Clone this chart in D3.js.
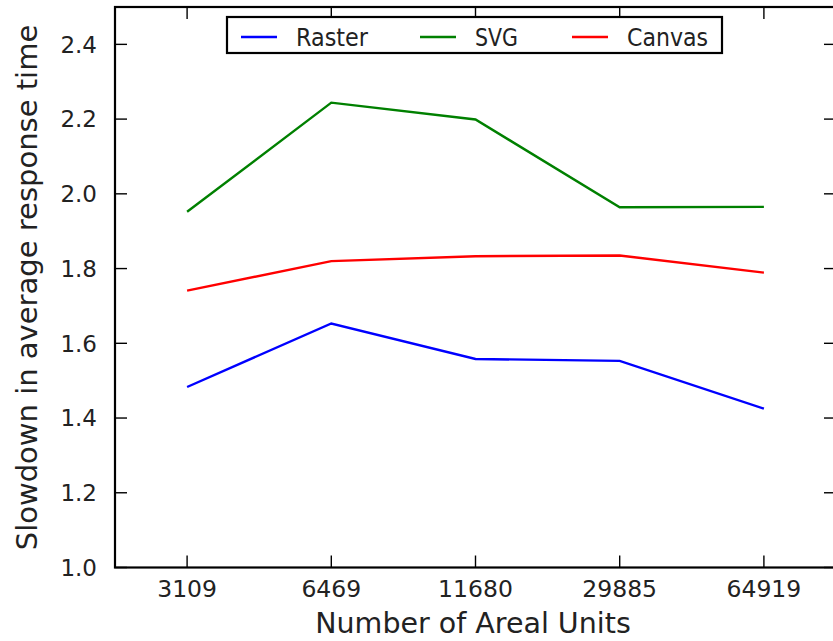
<!DOCTYPE html>
<html><head><meta charset="utf-8">
<script src="https://cdn.jsdelivr.net/npm/d3@7"></script>
<style>body{margin:0;background:#fff}svg{display:block}text{font-family:"DejaVu Sans",sans-serif;fill:#222}</style>
</head><body><svg id="c" width="833" height="641"></svg>
<script>
const categories = ["3109","6469","11680","29885","64919"];
const raster = [1.483, 1.653, 1.558, 1.553, 1.425];
const svgS   = [1.952, 2.244, 2.199, 1.964, 1.965];
const canvas = [1.741, 1.820, 1.833, 1.835, 1.789];
const yTicks = [1.0, 1.2, 1.4, 1.6, 1.8, 2.0, 2.2, 2.4];
const seriesNames = ["Raster","SVG","Canvas"];
const seriesColors = ["#0000ff","#008000","#ff0000"];
const seriesData = [raster, svgS, canvas];

const svg = d3.select("#c");
const L=115, R=836, T=7, B=567.5;
const x = d3.scaleLinear().domain([0.5, categories.length+0.5]).range([L,R]);
const y = d3.scaleLinear().domain([1.0, 2.5]).range([B,T]);

const line = d3.line().x((d,i)=>x(i+1)).y(d=>y(d));
seriesData.forEach((s,k)=>{
  svg.append("path").datum(s).attr("d",line).attr("fill","none")
    .attr("stroke",seriesColors[k]).attr("stroke-width",2.4);
});

svg.append("rect").attr("x",L).attr("y",T).attr("width",R-L).attr("height",B-T)
  .attr("fill","none").attr("stroke","#000").attr("stroke-width",2.2);

const tl=12;
yTicks.forEach(v=>{
  svg.append("line").attr("x1",L).attr("x2",L+tl).attr("y1",y(v)).attr("y2",y(v)).attr("stroke","#000").attr("stroke-width",1.4);
  svg.append("line").attr("x1",R).attr("x2",R-tl).attr("y1",y(v)).attr("y2",y(v)).attr("stroke","#000").attr("stroke-width",1.4);
  svg.append("text").attr("x",97).attr("y",y(v)).attr("dy","0.36em").attr("text-anchor","end")
    .attr("font-size",23).text(v.toFixed(1));
});
categories.forEach((c,i)=>{
  const xx=x(i+1);
  svg.append("line").attr("x1",xx).attr("x2",xx).attr("y1",B).attr("y2",B-tl).attr("stroke","#000").attr("stroke-width",1.4);
  svg.append("line").attr("x1",xx).attr("x2",xx).attr("y1",T).attr("y2",T+tl).attr("stroke","#000").attr("stroke-width",1.4);
  svg.append("text").attr("x",xx).attr("y",597).attr("text-anchor","middle").attr("font-size",23.5).text(c);
});

svg.append("text").attr("x",473).attr("y",633).attr("text-anchor","middle").attr("font-size",28.5).text("Number of Areal Units");
svg.append("text").attr("transform","translate(37,287.5) rotate(-90)").attr("text-anchor","middle").attr("font-size",29).text("Slowdown in average response time");

const lg = svg.append("g");
lg.append("rect").attr("x",227).attr("y",17).attr("width",495).attr("height",36)
  .attr("fill","#fff").attr("stroke","#000").attr("stroke-width",2.2);
const lx=[241,420,572];
const lw=[72,43,81];
seriesNames.forEach((n,k)=>{
  lg.append("line").attr("x1",lx[k]).attr("x2",lx[k]+36).attr("y1",37).attr("y2",37)
    .attr("stroke",seriesColors[k]).attr("stroke-width",2.4);
  lg.append("text").attr("x",lx[k]+55).attr("y",37).attr("dy","0.36em").attr("font-size",24)
    .attr("textLength", lw[k]).attr("lengthAdjust","spacingAndGlyphs").text(n);
});
</script></body></html>
